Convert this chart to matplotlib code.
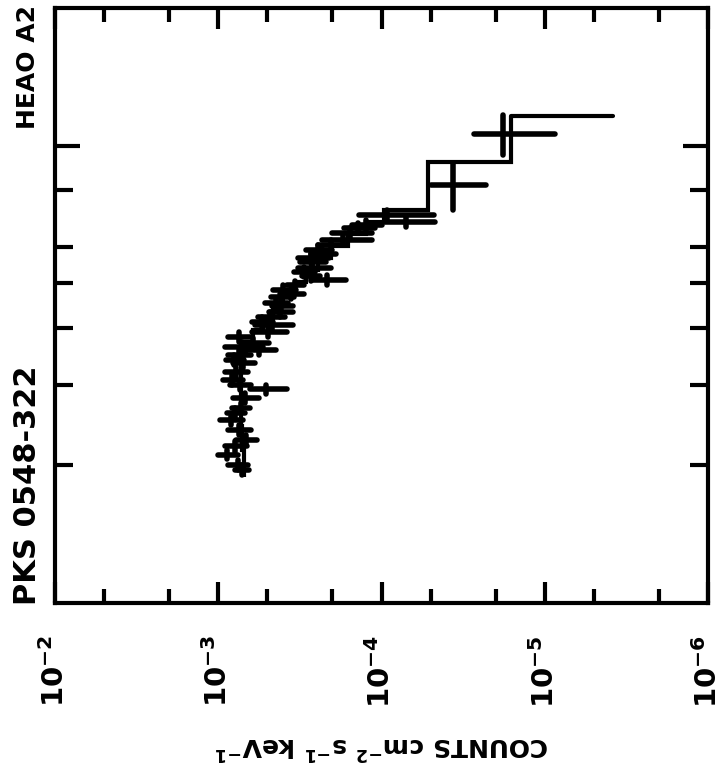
import matplotlib
matplotlib.use("Agg")
import matplotlib.pyplot as plt
from matplotlib import font_manager

# HEAO A2 spectrum of PKS 0548-322 (plot drawn rotated: counts across, energy up)

# model step spectrum: energy bin edges (keV) and model counts per bin
model_edges = [1.89, 2.03, 2.16, 2.30, 2.44, 2.59, 2.75, 2.92, 3.11, 3.30, 3.51, 3.73,
               3.96, 4.20, 4.47, 4.75, 5.04, 5.35, 5.69, 6.04, 6.42, 6.82, 7.24, 9.22, 11.63]
model_counts = [7.0e-4, 7.0e-4, 7.2e-4, 7.2e-4, 7.3e-4, 7.3e-4, 7.3e-4, 7.3e-4, 7.3e-4,
                7.2e-4, 6.8e-4, 6.1e-4, 5.3e-4, 4.6e-4, 4.0e-4, 3.4e-4, 2.9e-4, 2.45e-4,
                2.05e-4, 1.6e-4, 1.25e-4, 9.7e-5, 5.2e-5, 1.6e-5]
model_tail = 3.8e-6

# data points: energy (keV), half bin width, counts, counts error
energy = [10.6, 8.2, 7.05, 6.80, 6.72, 6.45, 6.23, 6.07, 5.92, 5.69, 5.58, 5.40, 5.20,
          5.09, 4.95, 4.84, 4.66, 4.53, 4.33, 4.22, 4.05, 3.92, 3.82, 3.71, 3.63, 3.58,
          3.49, 3.35, 3.20, 3.07, 2.93, 2.81, 2.67, 2.51, 2.39, 2.27, 2.11, 2.00, 1.95,
          6.60, 5.80, 5.30, 4.75, 4.45, 4.12, 3.40, 3.00, 2.60, 2.20]
energy_err = [1.07, 0.97, 0.18, 0.17, 0.17, 0.16, 0.16, 0.15, 0.15, 0.14, 0.14, 0.14, 0.13,
              0.13, 0.12, 0.12, 0.12, 0.11, 0.11, 0.11, 0.10, 0.10, 0.10, 0.09, 0.09, 0.09,
              0.09, 0.08, 0.08, 0.08, 0.07, 0.07, 0.07, 0.06, 0.06, 0.06, 0.05, 0.05, 0.05,
              0.16, 0.15, 0.13, 0.12, 0.11, 0.10, 0.08, 0.08, 0.07, 0.06]
counts = [1.8e-5, 3.65e-5, 9.3e-5, 7.1e-5, 1.25e-4, 1.57e-4, 1.72e-4, 2.05e-4, 2.46e-4,
          2.69e-4, 2.67e-4, 2.65e-4, 2.71e-4, 2.16e-4, 3.4e-4, 4.0e-4, 4.1e-4, 4.44e-4,
          4.2e-4, 4.79e-4, 4.7e-4, 4.98e-4, 7.5e-4, 6.1e-4, 7.2e-4, 5.65e-4, 7.5e-4,
          7.07e-4, 7.8e-4, 8.2e-4, 5.07e-4, 6.9e-4, 7.3e-4, 8.4e-4, 7.5e-4, 6.8e-4,
          8.8e-4, 7.6e-4, 7.2e-4,
          1.4e-4, 2.3e-4, 3.0e-4, 3.6e-4, 4.1e-4, 5.4e-4, 8.0e-4, 7.4e-4, 7.9e-4, 7.9e-4]
counts_err = [9.3e-6, 1.35e-5, 4.5e-5, 2.4e-5, 2.6e-5, 4.3e-5, 5.8e-5, 3.9e-5, 4.6e-5,
              5.8e-5, 4.7e-5, 6.0e-5, 3.4e-5, 5.0e-5, 4.0e-5, 6.5e-5, 6.5e-5, 7.1e-5,
              7.0e-5, 9.0e-5, 1.23e-4, 1.2e-4, 1.16e-4, 1.2e-4, 1.85e-4, 1.2e-4, 1.16e-4,
              1.1e-4, 1.25e-4, 1.1e-4, 1.3e-4, 1.25e-4, 9.0e-5, 1.35e-4, 1.16e-4, 1.0e-4,
              1.2e-4, 1.07e-4, 7.0e-5,
              3.0e-5, 4.0e-5, 4.5e-5, 6.0e-5, 6.0e-5, 8.0e-5, 1.0e-4, 1.1e-4, 1.0e-4, 1.2e-4]

count_ticks = [1e-2, 1e-3, 1e-4, 1e-5, 1e-6]
count_labels = ["$10^{-2}$", "$10^{-3}$", "$10^{-4}$", "$10^{-5}$", "$10^{-6}$"]
count_minor = [5e-3, 2e-3, 5e-4, 2e-4, 5e-5, 2e-5, 5e-6, 2e-6]
energy_major = [10]
energy_minor = [2, 3, 4, 5, 6, 8]

names = {f.name for f in font_manager.fontManager.ttflist}
face = "Liberation Sans Narrow" if "Liberation Sans Narrow" in names else "DejaVu Sans"
plt.rcParams["font.family"] = [face, "DejaVu Sans"]
plt.rcParams["font.weight"] = "bold"
plt.rcParams["mathtext.fontset"] = "custom"
plt.rcParams["mathtext.rm"] = face + ":bold"
plt.rcParams["mathtext.it"] = face + ":bold"
plt.rcParams["mathtext.bf"] = face + ":bold"

fig = plt.figure(figsize=(7.27, 7.69), dpi=100)
ax = fig.add_axes([0.0757, 0.2159, 0.8982, 0.7737])

ax.stairs(model_counts, model_edges, orientation="horizontal", baseline=None,
          color="black", lw=3)
ax.plot([model_counts[-1], model_tail], [model_edges[-1], model_edges[-1]],
        color="black", lw=3, solid_capstyle="round")

eb = ax.errorbar(counts, energy, xerr=counts_err, yerr=energy_err, fmt="none",
                 ecolor="black", elinewidth=4, capsize=0)
for lc in eb[2]:
    lc.set_capstyle("round")

ax.set_xscale("log")
ax.set_yscale("log")
ax.set_xlim(1e-2, 1e-6)
ax.set_ylim(1, 20)

ax.set_xticks(count_ticks)
ax.set_xticklabels(count_labels, rotation=90, fontsize=21)
ax.set_xticks(count_minor, minor=True)
ax.set_yticks(energy_major)
ax.set_yticks(energy_minor, minor=True)
ax.set_yticklabels([])
ax.set_yticklabels([], minor=True)
ax.tick_params(axis="x", which="minor", labelbottom=False)

ax.tick_params(which="both", direction="in", top=True, right=True, width=3, color="black")
ax.tick_params(axis="x", which="major", length=15, pad=23)
ax.tick_params(axis="x", which="minor", length=10)
ax.tick_params(axis="y", which="major", length=18)
ax.tick_params(axis="y", which="minor", length=13)
for s in ax.spines.values():
    s.set_linewidth(3)

fig.text(382 / 727, 1 - 745 / 769, "COUNTS cm$^{-2}$ s$^{-1}$ keV$^{-1}$", rotation=180,
         ha="center", va="center", fontsize=18)
fig.text(28 / 727, 1 - 605 / 769, "PKS 0548-322", rotation=90, ha="center",
         va="bottom", fontsize=22)
fig.text(28 / 727, 1 - 5 / 769, "HEAO A2", rotation=90, ha="center", va="top",
         fontsize=18)

fig.savefig("out.png", dpi=100)
